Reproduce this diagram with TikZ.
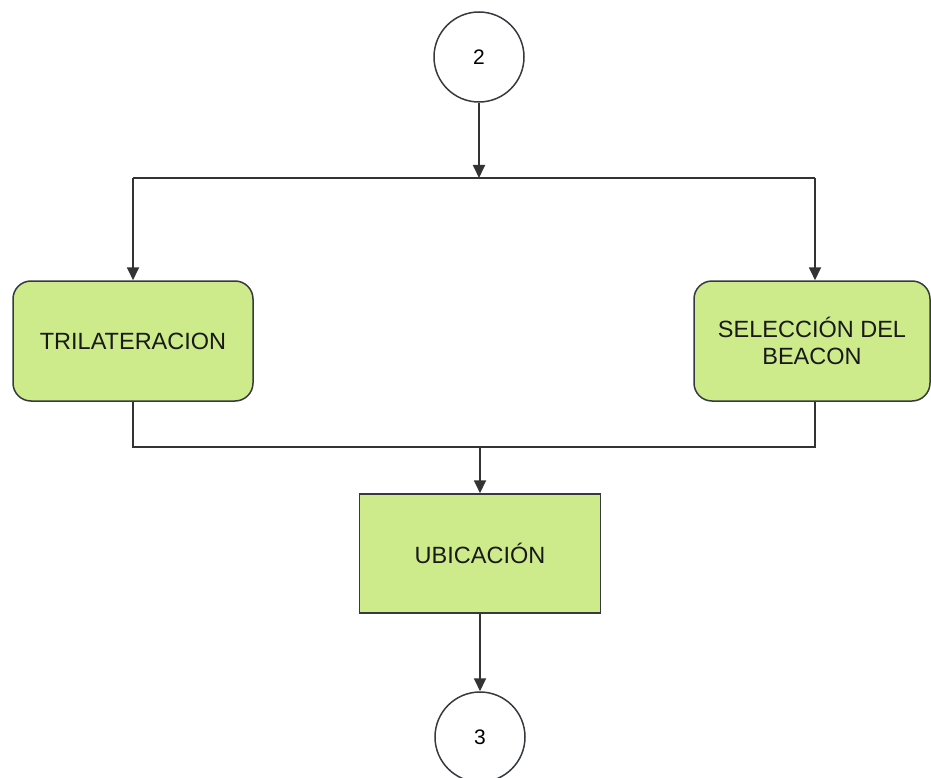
\documentclass[tikz,border=0pt]{standalone}
\usepackage{fontspec}
\setmainfont{Liberation Sans}
\usetikzlibrary{arrows.meta}
\definecolor{boxfill}{HTML}{CDEB8B}
\definecolor{edgecol}{HTML}{36393D}
\definecolor{wirecol}{HTML}{333333}
\begin{document}
\begin{tikzpicture}[x=1pt,y=-1pt,
  txt/.style={font=\fontsize{23.5}{27}\selectfont, text=black!90},
  proc/.style={txt, draw=edgecol, line width=1.5pt, fill=boxfill,
    minimum width=240pt, minimum height=120pt, align=center, inner sep=0pt},
  rproc/.style={proc, rounded corners=18pt},
  conncirc/.style={circle, draw=edgecol, line width=1.5pt, fill=white,
    minimum size=90pt, inner sep=0pt, font=\fontsize{21}{25}\selectfont},
  wire/.style={draw=wirecol, line width=1.8pt},
  arr/.style={wire, -{Triangle[length=13pt,width=12pt]}}]
\useasboundingbox (0,0) rectangle (931,778);

% nodes
\node[conncirc] (c2) at (479,57) {2};
\node[rproc] (tri) at (133,341) {TRILATERACION};
\node[rproc, minimum width=236pt] (sel) at (812,341) {SELECCIÓN DEL\\BEACON};
\node[proc, minimum width=241pt, minimum height=119pt] (ubi) at (480,553.5) {UBICACIÓN};
\node[conncirc] (c3) at (480,737) {3};

% junction points
\coordinate (j1) at (479,178);
\coordinate (tl) at (133,178);
\coordinate (tr) at (815,178);
\coordinate (bl) at (133,447);
\coordinate (br) at (815,447);
\coordinate (j2) at (480,447);

% split
\draw[arr] (c2) -- (j1);
\draw[wire] (tl) -- (tr);
\draw[arr] (tl) -- (tri.north);
\draw[arr] (tr) -- (tr |- sel.north);

% merge
\draw[wire] (tri.south) -- (bl) -- (br) -- (br |- sel.south);
\draw[arr] (j2) -- (ubi.north);
\draw[arr] (ubi.south) -- (c3.north);
\end{tikzpicture}
\end{document}
